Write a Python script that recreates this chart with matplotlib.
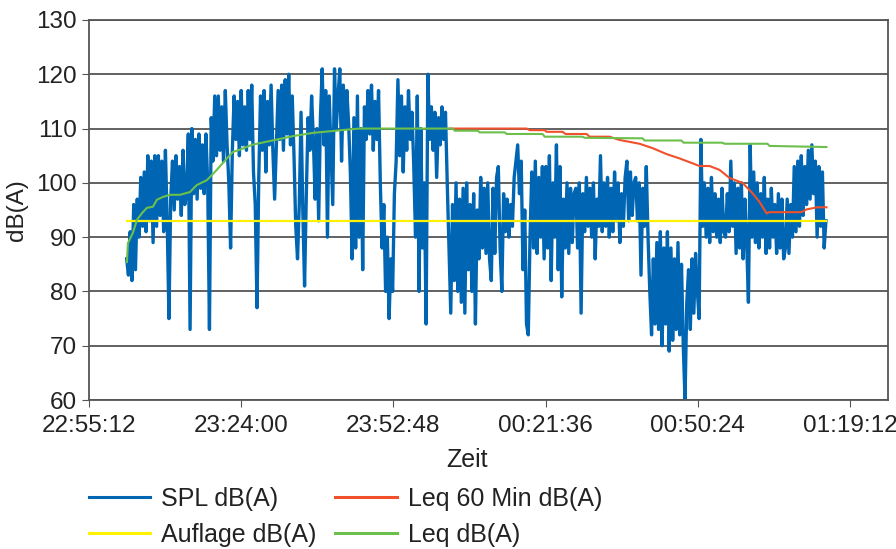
import matplotlib
matplotlib.use("Agg")
import matplotlib.pyplot as plt
import matplotlib.dates as mdates
import pandas as pd

plt.rcParams['font.family'] = ['Liberation Sans', 'DejaVu Sans']

# SPL dB(A), one reading every 20 s from 23:02:20
spl_start = "2020-01-01 23:02:20"
spl = [
    86, 83, 91, 82, 96, 84, 97, 90, 101, 92, 102, 91, 105, 93, 104, 89, 105,
    92, 105, 94, 104, 91, 106, 93, 75, 97, 104, 95, 105, 97, 103, 94, 106, 96,
    98, 109, 73, 110, 98, 108, 97, 109, 99, 107, 98, 109, 100, 73, 112, 104, 116,
    105, 116, 106, 114, 104, 117, 107, 100, 88, 106, 116, 108, 115, 105, 117, 107, 114,
    106, 117, 108, 118, 102, 96, 77, 101, 116, 106, 117, 102, 115, 107, 118, 106, 97,
    107, 117, 108, 118, 106, 119, 109, 120, 107, 116, 105, 92, 86, 96, 113, 95, 81,
    98, 112, 106, 116, 108, 97, 110, 93, 112, 121, 107, 117, 90, 116, 106, 96, 121,
    110, 116, 121, 104, 118, 110, 117, 111, 102, 86, 112, 88, 116, 90, 110, 84, 114,
    108, 117, 109, 118, 106, 115, 108, 117, 100, 88, 96, 80, 90, 75, 86, 80, 98,
    104, 119, 105, 116, 102, 114, 106, 117, 108, 113, 103, 90, 116, 80, 110, 88, 100,
    74, 120, 108, 114, 106, 113, 101, 112, 107, 114, 108, 113, 100, 88, 76, 96, 82,
    100, 80, 97, 78, 99, 76, 100, 84, 96, 80, 98, 74, 95, 86, 101, 88, 99,
    87, 100, 86, 82, 99, 87, 101, 103, 88, 80, 98, 91, 97, 90, 96, 92, 101,
    104, 107, 98, 104, 84, 95, 74, 72, 90, 102, 88, 104, 87, 101, 90, 103, 86,
    103, 88, 105, 82, 100, 90, 107, 84, 103, 79, 97, 88, 100, 87, 99, 89, 98,
    99, 88, 100, 76, 98, 91, 101, 92, 99, 90, 100, 86, 97, 92, 105, 91, 100,
    92, 101, 90, 99, 91, 102, 93, 100, 89, 98, 92, 101, 104, 93, 102, 94, 100,
    101, 93, 100, 83, 99, 92, 103, 90, 80, 72, 86, 74, 89, 73, 91, 70, 88,
    74, 91, 69, 88, 71, 86, 73, 89, 72, 85, 70, 60, 78, 84, 73, 86, 76,
    87, 80, 75, 108, 92, 100, 90, 99, 89, 101, 91, 98, 90, 97, 89, 99, 91,
    90, 98, 91, 104, 92, 100, 87, 99, 88, 100, 86, 97, 89, 78, 107, 90, 102,
    89, 100, 88, 98, 90, 101, 87, 97, 88, 99, 90, 96, 87, 98, 88, 97, 86,
    88, 97, 87, 96, 90, 103, 91, 104, 92, 105, 94, 103, 96, 106, 97, 107, 98,
    104, 90, 103, 92, 102, 88, 93,
]

auflage_t = ["23:02:20", "01:14:46"]
auflage = [93, 93]

leq_t = ["23:02:23", "23:02:34", "23:03:31", "23:04:17", "23:05:13", "23:06:10",
         "23:07:18", "23:08:04", "23:09:11", "23:10:31", "23:12:25", "23:14:18",
         "23:15:37", "23:17:31", "23:19:24", "23:21:18", "23:22:26", "23:23:45",
         "23:26:01", "23:33:47", "23:37:34", "23:44:00", "23:46:27", "00:04:02",
         "00:04:25", "00:08:46", "00:09:08", "00:13:52", "00:14:14", "00:21:03",
         "00:21:26", "00:28:37", "00:29:00", "00:39:58", "00:40:20", "00:47:20",
         "00:47:43", "00:55:05", "00:55:28", "01:03:36", "01:03:59", "01:14:46"]
leq = [85.4, 88.9, 90.8, 93.2, 94.4, 95.4,
       95.6, 96.9, 97.4, 97.8, 97.8, 98.3,
       99.6, 100.5, 102.4, 104.5, 105.7, 106.1,
       107.0, 108.6, 109.2, 109.8, 110.0, 110.0,
       109.6, 109.6, 109.3, 109.3, 109.0, 109.0,
       108.5, 108.5, 108.3, 108.2, 107.8, 107.8,
       107.4, 107.4, 107.2, 107.2, 106.8, 106.6]

leq60_t = ["00:03:28", "00:18:02", "00:18:35", "00:21:26", "00:21:49", "00:24:50",
           "00:25:24", "00:29:22", "00:29:56", "00:33:43", "00:35:37", "00:39:23",
           "00:41:51", "00:44:30", "00:46:58", "00:49:25", "00:50:44", "00:52:38",
           "00:54:31", "00:56:25", "00:58:52", "01:00:46", "01:02:05", "01:03:25",
           "01:03:59", "01:10:02", "01:10:58", "01:13:03", "01:14:46"]
leq60 = [110.0, 110.0, 109.7, 109.7, 109.4, 109.4,
         109.0, 109.0, 108.5, 108.5, 107.9, 107.2,
         106.4, 105.3, 104.5, 103.6, 103.1, 103.1,
         102.4, 100.9, 100.0, 98.1, 96.5, 94.4,
         94.6, 94.6, 95.1, 95.5, 95.5]


def to_time(strings):
    t = pd.to_datetime(["2020-01-01 " + s for s in strings])
    return t + pd.to_timedelta((t.hour < 12).astype(int), unit="D")


spl_t = pd.date_range(spl_start, periods=len(spl), freq="20s")

fig = plt.figure(figsize=(8.96, 5.49), dpi=100)
ax = fig.add_axes([0.0993, 0.2714, 0.8917, 0.6922])

l1, = ax.plot(spl_t, spl, color="#0066b3", lw=2.4, label="SPL dB(A)")
l2, = ax.plot(to_time(auflage_t), auflage, color="#fff200", lw=1.6, label="Auflage dB(A)")
l3, = ax.plot(to_time(leq60_t), leq60, color="#f0502a", lw=1.5, label="Leq 60 Min dB(A)")
l4, = ax.plot(to_time(leq_t), leq, color="#6dbf4b", lw=1.5, label="Leq dB(A)")

xticks = pd.date_range("2020-01-01 22:55:12", periods=6, freq="1728s")
ax.set_xticks(xticks)
ax.xaxis.set_major_formatter(mdates.DateFormatter("%H:%M:%S"))
ax.set_xlim(pd.Timestamp("2020-01-01 22:55:12"), pd.Timestamp("2020-01-02 01:26:24"))
ax.set_ylim(60, 130)
ax.set_yticks(range(60, 131, 10))
ax.yaxis.grid(True, color="#555555", lw=1.3)
ax.set_axisbelow(True)
for s in ax.spines.values():
    s.set_color("#555555")
    s.set_linewidth(1.3)
ax.tick_params(labelsize=17.5, length=5, color="#555555", colors="#222222")
ax.tick_params(axis="x", pad=6)
ax.set_xlabel("Zeit", fontsize=18, color="#222222")
ax.xaxis.set_label_coords(0.473, -0.125)
ax.set_ylabel("dB(A)", fontsize=17.5, color="#222222", labelpad=6)

leg_items = [l1, l2, l3, l4]
leg = fig.legend(handles=leg_items, loc="center left", bbox_to_anchor=(0.0742, 0.059),
                 ncol=2, frameon=False, fontsize=18, handlelength=2.45, handletextpad=0.44,
                 columnspacing=0.75, labelspacing=0.48, labelcolor="#222222")
for h in leg.get_lines():
    h.set_linewidth(2.2)

fig.savefig("out.png", dpi=100)
